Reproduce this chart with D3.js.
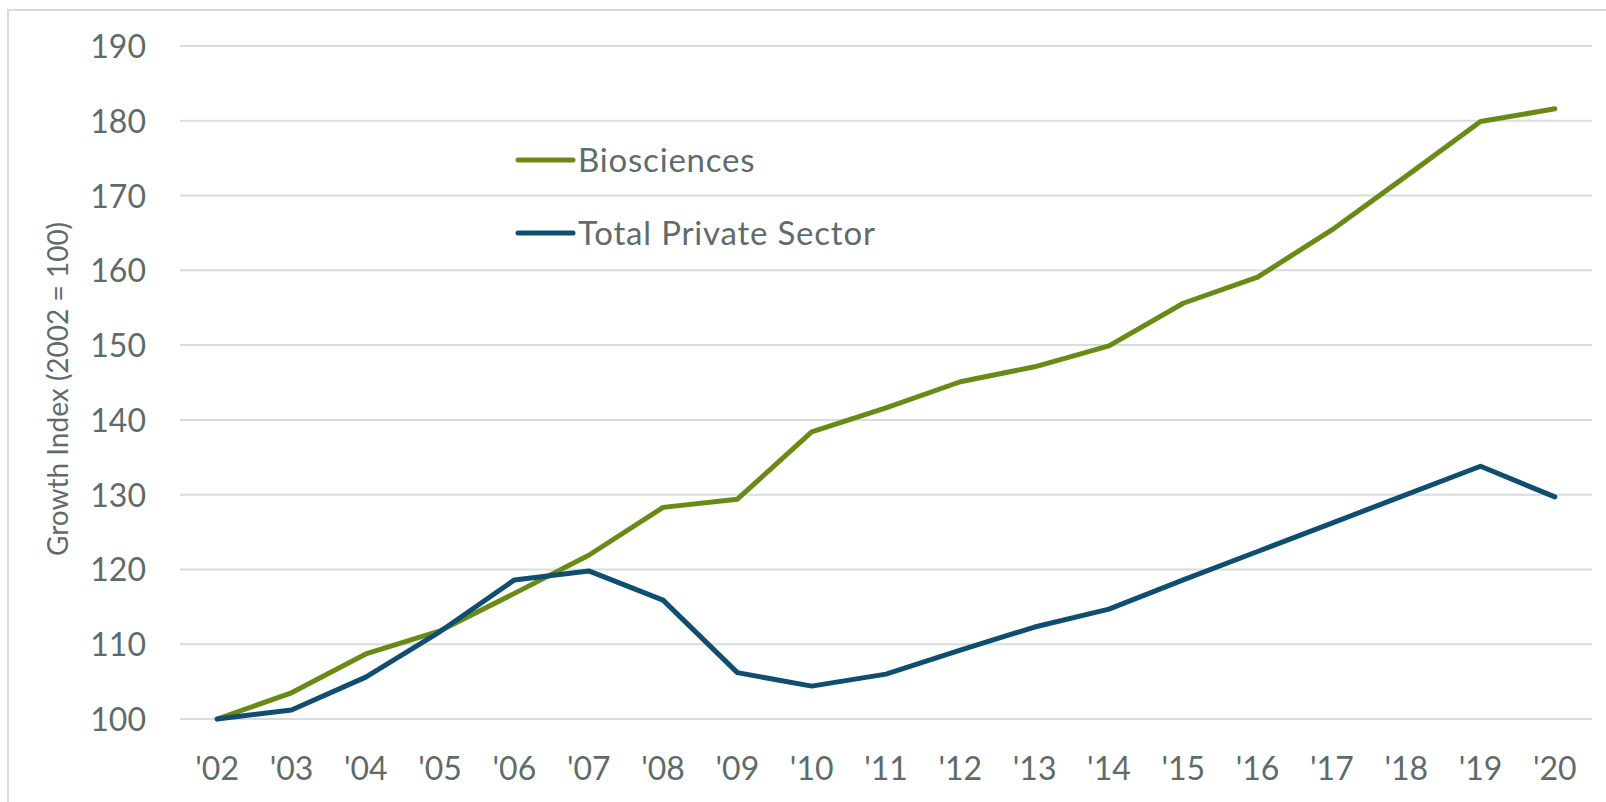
<!DOCTYPE html>
<html>
<head>
<meta charset="utf-8">
<style>
body { margin: 0; background: #fff; }
.frame { fill: none; stroke: #d9d9d9; stroke-width: 2; }
.grid line { stroke: #d9dcdc; stroke-width: 2; }
.tick text { font: 32px Lato, sans-serif; fill: #5f6b6b; }
.ytitle { font: 28px Lato, sans-serif; fill: #5f6b6b; }
.legend text { font: 33px Lato, sans-serif; fill: #5f6b6b; letter-spacing: 0.8px; }
.line { fill: none; stroke-width: 5; stroke-linecap: round; stroke-linejoin: round; }
</style>
</head>
<body>
<svg width="1606" height="802"></svg>
<script src="https://d3js.org/d3.v7.min.js"></script>
<script>
// data
var years = ["'02","'03","'04","'05","'06","'07","'08","'09","'10","'11","'12","'13","'14","'15","'16","'17","'18","'19","'20"];
var bio   = [100, 103.5, 108.7, 111.8, 116.8, 121.9, 128.3, 129.4, 138.4, 141.6, 145.1, 147.1, 149.9, 155.6, 159.1, 165.4, 172.6, 179.9, 181.6];
var total = [100, 101.2, 105.6, 111.7, 118.6, 119.8, 115.9, 106.2, 104.4, 106.0, 109.2, 112.3, 114.7, 118.6, 122.4, 126.2, 130.0, 133.8, 129.7];
var yTicks = [100, 110, 120, 130, 140, 150, 160, 170, 180, 190];
var seriesNames = ["Biosciences", "Total Private Sector"];
var colors = ["#6a8a16", "#0f4e70"];

var svg = d3.select("svg");

// outer frame (right/bottom edges fall off the picture)
svg.append("rect").attr("class", "frame")
  .attr("x", 8).attr("y", 10).attr("width", 1620).attr("height", 820);

var x = d3.scaleBand().domain(years).range([180, 1592]);
var y = d3.scaleLinear().domain([100, 190]).range([719, 46]);
var cx = function(d) { return x(d) + x.bandwidth() / 2; };

// gridlines
svg.append("g").attr("class", "grid")
  .selectAll("line").data(yTicks).enter().append("line")
  .attr("x1", 180).attr("x2", 1592)
  .attr("y1", function(d) { return y(d); })
  .attr("y2", function(d) { return y(d); });

// y axis labels
var gy = svg.append("g").attr("transform", "translate(146,0)")
  .call(d3.axisLeft(y).tickValues(yTicks).tickSize(0).tickPadding(0));
gy.select(".domain").remove();
gy.selectAll("text").attr("dy", "0.36em");

// x axis labels
var gx = svg.append("g").attr("transform", "translate(0,757)")
  .call(d3.axisBottom(x).tickSize(0).tickPadding(0));
gx.select(".domain").remove();
gx.selectAll("text").attr("dy", "0.72em");

svg.append("text").attr("class", "ytitle")
  .attr("transform", "translate(57,389) rotate(-90)")
  .attr("text-anchor", "middle").attr("dominant-baseline", "central")
  .text("Growth Index (2002 = 100)");

var line = d3.line()
  .x(function(d, i) { return cx(years[i]); })
  .y(function(d) { return y(d); });

[bio, total].forEach(function(s, i) {
  svg.append("path").attr("class", "line")
    .attr("stroke", colors[i]).attr("d", line(s));
});

// legend
var lg = svg.append("g").attr("class", "legend");
seriesNames.forEach(function(n, i) {
  var ly = 160 + i * 73;
  lg.append("line").attr("x1", 518).attr("x2", 573)
    .attr("y1", ly).attr("y2", ly)
    .attr("stroke", colors[i]).attr("stroke-width", 5).attr("stroke-linecap", "round");
  lg.append("text").attr("x", 578).attr("y", ly).attr("dy", "0.36em").text(n);
});
</script>
</body>
</html>
